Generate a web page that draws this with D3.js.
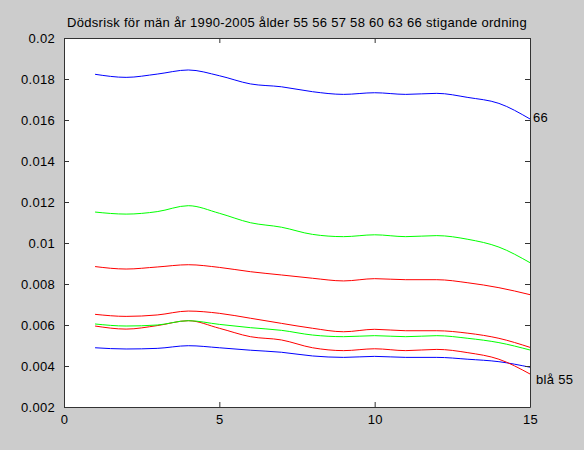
<!DOCTYPE html>
<html>
<head>
<meta charset="utf-8">
<script src="https://cdn.jsdelivr.net/npm/d3@7"></script>
<style>
  html, body { margin: 0; padding: 0; background: #cccccc; }
  svg { display: block; }
  text { font-family: "Liberation Sans", Arial, sans-serif; fill: #000; }
</style>
</head>
<body>
<svg id="chart" width="584" height="450"></svg>
<script>
// Death risk for men 1990-2005, ages 55 56 57 58 60 63 66 (year index 1..15)
const years = d3.range(1, 16);

const age55 = [0.00489, 0.00483, 0.00486, 0.00499, 0.00489, 0.00477, 0.00467, 0.00449, 0.00442, 0.00447, 0.00442, 0.00442, 0.00433, 0.00421, 0.00394];
const age56 = [0.00595, 0.00580, 0.00597, 0.00621, 0.00584, 0.00543, 0.00527, 0.00489, 0.00475, 0.00484, 0.00475, 0.00481, 0.00465, 0.00433, 0.00361];
const age57 = [0.00605, 0.00595, 0.00600, 0.00621, 0.00603, 0.00587, 0.00574, 0.00551, 0.00543, 0.00548, 0.00543, 0.00548, 0.00535, 0.00514, 0.00478];
const age58 = [0.00652, 0.00642, 0.00649, 0.00668, 0.00657, 0.00633, 0.00608, 0.00584, 0.00567, 0.00579, 0.00572, 0.00572, 0.00560, 0.00535, 0.00491];
const age60 = [0.00885, 0.00873, 0.00883, 0.00894, 0.00881, 0.00860, 0.00844, 0.00828, 0.00815, 0.00826, 0.00821, 0.00821, 0.00806, 0.00782, 0.00748];
const age63 = [0.01151, 0.01141, 0.01153, 0.01182, 0.01145, 0.01099, 0.01077, 0.01042, 0.01031, 0.01040, 0.01031, 0.01036, 0.01018, 0.00980, 0.00904];
const age66 = [0.01823, 0.01808, 0.01824, 0.01844, 0.01816, 0.01776, 0.01762, 0.01738, 0.01725, 0.01733, 0.01725, 0.01730, 0.01710, 0.01681, 0.01605];

const seriesNames = ["55", "56", "57", "58", "60", "63", "66"];
const seriesValues = [age55, age56, age57, age58, age60, age63, age66];
const seriesColors = ["#0000ff", "#ff0000", "#00ff00", "#ff0000", "#ff0000", "#00ff00", "#0000ff"];

const xTicks = [0, 5, 10, 15];
const yTicks = [0.002, 0.004, 0.006, 0.008, 0.01, 0.012, 0.014, 0.016, 0.018, 0.02];
const yTickLabels = ["0.002", "0.004", "0.006", "0.008", "0.01", "0.012", "0.014", "0.016", "0.018", "0.02"];

const title = "Dödsrisk för män år 1990-2005 ålder 55 56 57 58 60 63 66 stigande ordning";
const endLabels = [{ text: "66", series: 6 }, { text: "blå 55", series: 0 }];

const margin = { left: 64, top: 38, right: 54, bottom: 43 };
const W = 584, H = 450;
const fontSize = "13px";
const letterSpacing = "0.3px";
const svg = d3.select("#chart");

const x = d3.scaleLinear().domain([0, 15]).range([margin.left, W - margin.right]);
const y = d3.scaleLinear().domain([0.002, 0.02]).range([H - margin.bottom, margin.top]);

// plot area
svg.append("rect")
  .attr("x", x(0)).attr("y", y(0.02))
  .attr("width", x(15) - x(0)).attr("height", y(0.002) - y(0.02))
  .attr("fill", "#ffffff");

// series lines
const line = d3.line()
  .x((d, i) => x(years[i]))
  .y(d => y(d))
  .curve(d3.curveMonotoneX);

const plot = svg.append("g");
seriesValues.forEach((vals, k) => {
  plot.append("path")
    .attr("d", line(vals))
    .attr("fill", "none")
    .attr("stroke", seriesColors[k])
    .attr("stroke-width", 1);
});

// axes with inward ticks on all four sides
const axisColor = "#333333";
const tickLen = 5;
const fmtY = (d) => yTickLabels[yTicks.indexOf(d)];

const axLeft = svg.append("g").attr("transform", `translate(${x(0)},0)`)
  .call(d3.axisLeft(y).tickValues(yTicks).tickFormat(fmtY).tickSizeInner(-tickLen).tickSizeOuter(0).tickPadding(9));
const axRight = svg.append("g").attr("transform", `translate(${x(15)},0)`)
  .call(d3.axisRight(y).tickValues(yTicks).tickFormat("").tickSizeInner(-tickLen).tickSizeOuter(0));
const axBottom = svg.append("g").attr("transform", `translate(0,${y(0.002)})`)
  .call(d3.axisBottom(x).tickValues(xTicks).tickFormat(d3.format("d")).tickSizeInner(-tickLen).tickSizeOuter(0).tickPadding(8));
const axTop = svg.append("g").attr("transform", `translate(0,${y(0.02)})`)
  .call(d3.axisTop(x).tickValues(xTicks).tickFormat("").tickSizeInner(-tickLen).tickSizeOuter(0));

[axLeft, axRight, axBottom, axTop].forEach(g => {
  g.selectAll("path.domain").attr("stroke", axisColor).attr("stroke-width", 1);
  g.selectAll(".tick line").attr("stroke", axisColor);
  g.selectAll(".tick text").attr("fill", "#000")
    .style("font-size", fontSize)
    .style("letter-spacing", letterSpacing)
    .style("font-family", "'Liberation Sans', Arial, sans-serif");
});

// title
svg.append("text")
  .attr("x", (x(0) + x(15)) / 2)
  .attr("y", 27)
  .attr("text-anchor", "middle")
  .style("font-size", fontSize)
  .style("letter-spacing", letterSpacing)
  .text(title);

// end-of-line labels
endLabels.forEach((lab, i) => {
  const v = seriesValues[lab.series][14];
  svg.append("text")
    .attr("x", x(15) + (i === 0 ? 3 : 6))
    .attr("y", y(v) + (i === 0 ? -2 : 12))
    .attr("dy", "0.35em")
    .style("font-size", fontSize)
    .style("letter-spacing", letterSpacing)
    .text(lab.text);
});
</script>
</body>
</html>
